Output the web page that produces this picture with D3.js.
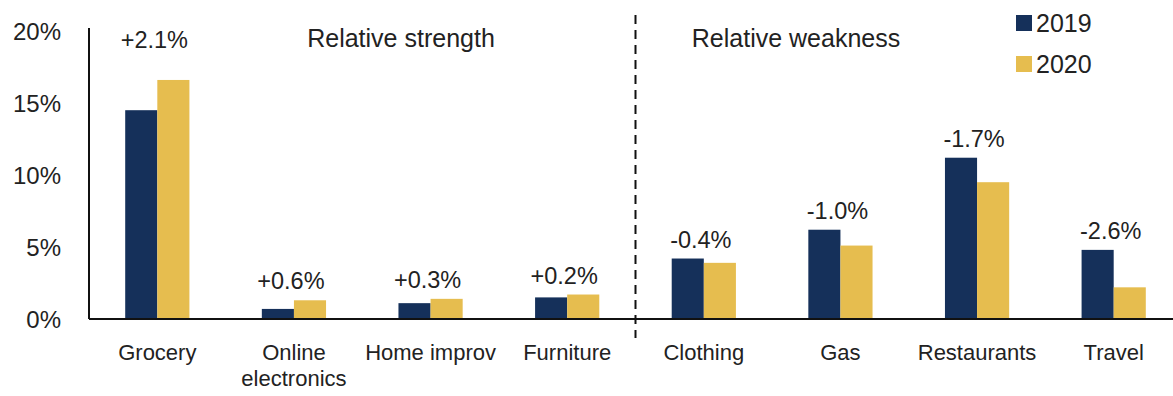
<!DOCTYPE html>
<html>
<head>
<meta charset="utf-8">
<script src="https://cdn.jsdelivr.net/npm/d3@7"></script>
<style>
  body { margin: 0; background: #fff; }
  svg text { font-family: "Liberation Sans", Arial, sans-serif; fill: #222; }
</style>
</head>
<body>
<div id="chart"></div>
<script>
const categories = ['Grocery', 'Online electronics', 'Home improv', 'Furniture', 'Clothing', 'Gas', 'Restaurants', 'Travel'];
const values2019 = [14.5, 0.7, 1.1, 1.5, 4.2, 6.2, 11.2, 4.8];
const values2020 = [16.6, 1.3, 1.4, 1.7, 3.9, 5.1, 9.5, 2.2];
const changeLabels = ['+2.1%', '+0.6%', '+0.3%', '+0.2%', '-0.4%', '-1.0%', '-1.7%', '-2.6%'];
const yTicks = [0, 5, 10, 15, 20];
const series = ['2019', '2020'];
const colors = { '2019': '#15305a', '2020': '#e6bd4f' };

const width = 1173;
const height = 396;

const svg = d3.select('#chart').append('svg')
    .attr('width', width)
    .attr('height', height);

const x = d3.scaleBand()
    .domain(categories)
    .range([89, 1182])
    .paddingInner(0.53)
    .paddingOuter(0.265);

const x1 = d3.scaleBand()
    .domain(series)
    .range([0, x.bandwidth()]);

const y = d3.scaleLinear()
    .domain([0, 20])
    .range([319, 31]);

// y tick labels, no tick marks
svg.append('g')
    .selectAll('text')
    .data(yTicks)
  .enter().append('text')
    .attr('x', 61)
    .attr('y', d => y(d))
    .attr('dy', '0.36em')
    .attr('text-anchor', 'end')
    .style('font-size', '24px')
    .text(d => `${d}%`);

// bars
const rows = categories.map((c, i) => ({ cat: c, '2019': values2019[i], '2020': values2020[i], label: changeLabels[i] }));

const groups = svg.append('g')
  .selectAll('g')
    .data(rows)
  .enter().append('g')
    .attr('transform', d => `translate(${x(d.cat)},0)`);

groups.selectAll('rect')
    .data(d => series.map(s => ({ key: s, value: d[s] })))
  .enter().append('rect')
    .attr('x', d => x1(d.key))
    .attr('y', d => y(d.value))
    .attr('width', x1.bandwidth())
    .attr('height', d => y(0) - y(d.value))
    .attr('fill', d => colors[d.key]);

// change labels
groups.append('text')
    .attr('x', x.bandwidth() / 2 - 3)
    .attr('y', d => {
      const top = Math.max(d['2019'], d['2020']);
      return top > 15 ? y(20) + 17 : y(top) - 11;
    })
    .attr('text-anchor', 'middle')
    .style('font-size', '23.5px')
    .text(d => d.label);

// axes lines
svg.append('line')
    .attr('x1', 89).attr('x2', width)
    .attr('y1', y(0)).attr('y2', y(0))
    .attr('stroke', '#111').attr('stroke-width', 2);

svg.append('line')
    .attr('x1', 89).attr('x2', 89)
    .attr('y1', 28).attr('y2', y(0))
    .attr('stroke', '#111').attr('stroke-width', 2);

// category labels
svg.append('g')
  .selectAll('text')
    .data(categories)
  .enter().append('text')
    .attr('x', d => x(d) + x.bandwidth() / 2)
    .attr('y', 360)
    .attr('text-anchor', 'middle')
    .style('font-size', '22px')
    .each(function (d) {
      const lines = d === 'Online electronics' ? ['Online', 'electronics'] : [d];
      lines.forEach((l, i) => {
        d3.select(this).append('tspan')
          .attr('x', x(d) + x.bandwidth() / 2)
          .attr('dy', i === 0 ? 0 : 26)
          .text(l);
      });
    });

// divider between strength and weakness
const divX = x(categories[4]) - x.step() * x.paddingInner() / 2;
svg.append('line')
    .attr('x1', divX).attr('x2', divX)
    .attr('y1', 15).attr('y2', 338)
    .attr('stroke', '#111')
    .attr('stroke-width', 2)
    .attr('stroke-dasharray', '9,6');

// section titles
svg.append('text')
    .attr('x', 401).attr('y', 47)
    .attr('text-anchor', 'middle')
    .style('font-size', '25px')
    .text('Relative strength');

svg.append('text')
    .attr('x', 796).attr('y', 47)
    .attr('text-anchor', 'middle')
    .style('font-size', '25px')
    .text('Relative weakness');

// legend
const legend = svg.append('g')
  .selectAll('g')
    .data(series)
  .enter().append('g')
    .attr('transform', (d, i) => `translate(1016,${23 + i * 41})`);

legend.append('rect')
    .attr('x', 0).attr('y', -8)
    .attr('width', 16).attr('height', 16)
    .attr('fill', d => colors[d]);

legend.append('text')
    .attr('x', 20).attr('y', 0)
    .attr('dy', '0.36em')
    .style('font-size', '25px')
    .text(d => d);
</script>
</body>
</html>
